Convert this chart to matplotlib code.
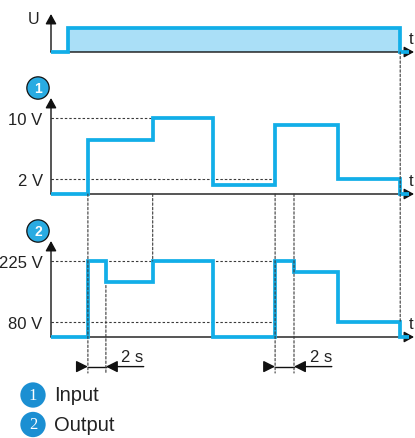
import numpy as np
import matplotlib
matplotlib.use("Agg")
import matplotlib.pyplot as plt
from matplotlib.patches import ConnectionPatch

plt.rcParams['font.family'] = ['Liberation Sans', 'DejaVu Sans']

# ---------------- data ----------------
# supply voltage U (on/off)
t_U = [0.0, 1.9, 38.8, 39.8]
U = [0, 1, 0]

# input control signal (V)
t_in = [0.0, 4.1, 11.3, 18.0, 24.9, 31.9, 38.8, 39.8]
v_in = [0, 7.1, 10, 1.2, 9.1, 2, 0]

# output voltage (V)
t_out = [0.0, 4.1, 6.1, 11.3, 18.0, 24.9, 27.0, 31.9, 38.8, 39.8]
v_out = [0, 225, 174, 225, 0, 225, 198, 80, 0]

in_ticks = [2, 10]
in_labels = ['2 V', '10 V']
out_ticks = [80, 225]
out_labels = ['80 V', '225 V']
delay_label = '2 s'
legend_labels = ['Input', 'Output']

# ---------------- style ----------------
BLUE = '#12aee8'
FILL = '#aadff7'
DASH = '#3a3a3a'
W, H = 415, 439

fig = plt.figure(figsize=(W / 100, H / 100), dpi=100)


def rect(left, bottom, right, top):
    return [left / W, 1 - bottom / H, (right - left) / W, (bottom - top) / H]


# output axis: schematic scale (0 drawn close under 80 V)
def out_level(v):
    return np.interp(v, [0, 80, 225], [0, 15, 76])


ax0 = fig.add_axes(rect(51, 53, 414, 15))
ax1 = fig.add_axes(rect(51, 195, 414, 99))
ax2 = fig.add_axes(rect(51, 338, 414, 242))

XMAX = (414 - 51) / 9.0
for ax in (ax0, ax1, ax2):
    ax.set_xlim(0, XMAX)
    for s in ax.spines.values():
        s.set_visible(False)
    ax.set_xticks([])
    ax.patch.set_alpha(0)
ax0.set_ylim(0, 38 / 24)
ax1.set_ylim(0, 96 / 7.6)
ax2.set_ylim(0, 96)

ax0.set_yticks([])
ax1.set_yticks(in_ticks, in_labels)
ax2.set_yticks(out_level(out_ticks), out_labels)
for ax in (ax1, ax2):
    ax.tick_params(axis='y', length=0, pad=6, labelsize=12, labelcolor='#222')

arrow = dict(arrowstyle='-|>,head_length=0.6,head_width=0.33', lw=1.0,
             color='#111', shrinkA=0, shrinkB=0, mutation_scale=10)
for ax in (ax0, ax1, ax2):
    ax.annotate('', xy=(1, 0), xytext=(0, 0), xycoords='axes fraction',
                arrowprops=arrow, zorder=2)
    ax.annotate('', xy=(0, 1), xytext=(0, 0), xycoords='axes fraction',
                arrowprops=arrow, zorder=2)
    ax.annotate('t', xy=(1, 0), xycoords='axes fraction', xytext=(-5, 13),
                textcoords='offset pixels', ha='left', va='center',
                fontsize=12, color='#222', annotation_clip=False)

ax0.annotate('U', xy=(0, 1), xycoords='axes fraction', xytext=(-17, -5),
             textcoords='offset pixels', ha='center', va='center',
             fontsize=11.5, color='#222')

# panel number badges
for ax, n in ((ax1, '1'), (ax2, '2')):
    ax.annotate(n, xy=(0, 1), xycoords='axes fraction', xytext=(-13, 10),
                textcoords='offset pixels', ha='center', va='center',
                fontsize=10, color='white', fontweight='bold',
                bbox=dict(boxstyle='circle,pad=0.3', fc='#29abe2', ec='#111', lw=0.9),
                annotation_clip=False)

line_kw = dict(color=BLUE, lw=2.7, solid_joinstyle='miter', solid_capstyle='butt',
               clip_on=False, zorder=5)

# top panel
U_y = U + [U[-1]]
ax0.fill_between(t_U, U_y, step='post', color=FILL, lw=0, zorder=1)
ax0.step(t_U, U_y, where='post', **line_kw)

# input panel
ax1.step(t_in, v_in + [v_in[-1]], where='post', **line_kw)
dkw = dict(color=DASH, lw=0.8, ls=(0, (2.2, 1.8)), zorder=1, clip_on=False)
ax1.plot([0, t_in[2]], [10, 10], **dkw)
ax1.plot([0, t_in[4]], [2, 2], **dkw)

# output panel
lv = out_level(v_out)
ax2.step(t_out, list(lv) + [lv[-1]], where='post', **line_kw)
ax2.plot([0, t_in[4]], [out_level(225)] * 2, **dkw)
ax2.plot([0, t_in[4]], [out_level(80)] * 2, **dkw)

# vertical guide lines
BOT = -36
def vline(axA, yA, axB, yB, t):
    cp = ConnectionPatch(xyA=(t, yA), coordsA=axA.transData,
                         xyB=(t, yB), coordsB=axB.transData,
                         color=DASH, lw=0.8, ls=(0, (2.2, 1.8)), zorder=1)
    fig.add_artist(cp)

vline(ax1, 0, ax2, BOT, t_in[1])
vline(ax1, 0, ax2, out_level(225), t_in[2])
vline(ax2, out_level(v_out[2]) - 3, ax2, BOT, t_out[2])
vline(ax1, 0, ax2, BOT, t_in[4])
vline(ax1, 0, ax2, BOT, t_out[6])
vline(ax0, 0, ax2, out_level(80), t_U[2])

# 2 s delay markers
AY = -29.6
head = dict(arrowstyle='-|>,head_length=0.7,head_width=0.35', lw=1.0,
            color='#111', shrinkA=0, shrinkB=0, mutation_scale=10)
for t0, t1, tail_l, tail_r in ((t_out[1], t_out[2], 3.0, 10.3),
                               (t_out[5], t_out[6], 24.0, 31.2)):
    ax2.annotate('', xy=(t0, AY), xytext=(tail_l, AY), arrowprops=head,
                 annotation_clip=False)
    ax2.annotate('', xy=(t1, AY), xytext=(tail_r, AY), arrowprops=head,
                 annotation_clip=False)
    ax2.plot([t0, t1], [AY, AY], color='#111', lw=1.0, clip_on=False)
    ax2.text(tail_r, AY + 3, delay_label, ha='right', va='bottom',
             fontsize=12, color='#222', clip_on=False)

# legend
for i, (n, lab) in enumerate(zip(['1', '2'], legend_labels)):
    y = 396 + 29.5 * i
    fig.text(33 / W, 1 - y / H, n, ha='center', va='center', fontsize=12,
             family=['Liberation Serif', 'DejaVu Serif'], color='white',
             bbox=dict(boxstyle='circle,pad=0.28', fc='#1b8fd2', ec='none'))
    fig.text(54 / W, 1 - y / H, lab, ha='left', va='center', fontsize=14.5,
             color='#222')

fig.savefig('out.png', dpi=100)
